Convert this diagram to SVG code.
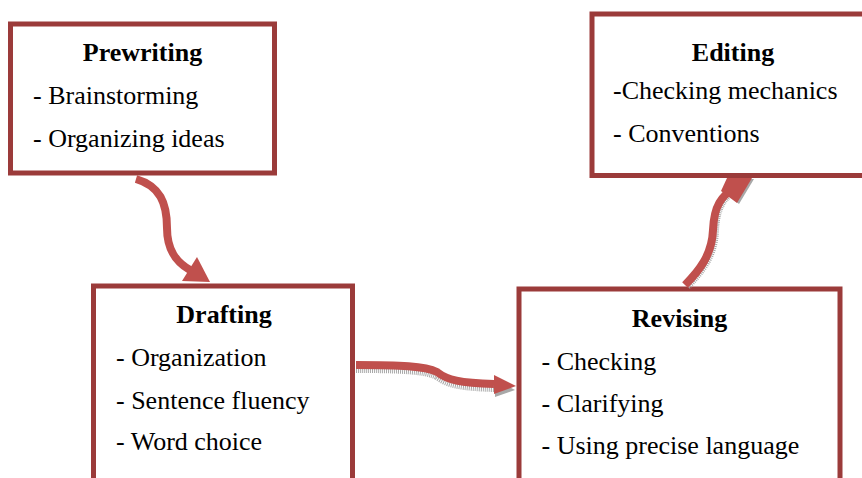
<svg xmlns="http://www.w3.org/2000/svg" width="862" height="478" viewBox="0 0 862 478">
<style>
.box{fill:#fff;stroke:#9B3B3A;stroke-width:5}
.t{font-family:"Liberation Serif","Times New Roman",serif;font-size:26px;fill:#000}
.h{font-weight:bold;text-anchor:middle}
.shaft{fill:none;stroke:#C0504D;stroke-width:8;stroke-linecap:butt}
.shadow{fill:none;stroke:#a8a8a8;stroke-width:8;stroke-dasharray:1 1}
.head{fill:#C0504D}
.hshadow{fill:#a8a8a8}
</style>
<rect width="862" height="478" fill="#fff"/>
<g id="prewriting">
<rect class="box" x="10.5" y="24" width="264" height="149"/>
<text class="t h" x="142.5" y="61">Prewriting</text>
<text class="t" x="33" y="104">- Brainstorming</text>
<text class="t" x="33" y="146.5">- Organizing ideas</text>
</g>
<g id="editing">
<rect class="box" x="592" y="14" width="290" height="161.5"/>
<text class="t h" x="733" y="61">Editing</text>
<text class="t" x="613" y="99">-Checking mechanics</text>
<text class="t" x="613" y="141.5">- Conventions</text>
</g>
<g id="drafting">
<rect class="box" x="93.5" y="286" width="259" height="210"/>
<text class="t h" x="224" y="323">Drafting</text>
<text class="t" x="116" y="365.5">- Organization</text>
<text class="t" x="116" y="409">- Sentence fluency</text>
<text class="t" x="116" y="450">- Word choice</text>
</g>
<g id="revising">
<rect class="box" x="519" y="289" width="321" height="210"/>
<text class="t h" x="679.5" y="326.5">Revising</text>
<text class="t" x="541.5" y="370">- Checking</text>
<text class="t" x="541.5" y="411.5">- Clarifying</text>
<text class="t" x="541.5" y="454">- Using precise language</text>
</g>
<g id="connectors">
<path class="shaft" d="M136,179 C160,186 167,203 167,228 C167,250 176,262 190,270"/>
<polygon class="head" points="182,281 210,282 197,257"/>
<path class="shadow" d="M356,369 C400,369 425,370 437,376 C447,384 460,387 494,388"/>
<polygon class="hshadow" points="495,379 515,390 495,397"/>
<path class="shaft" d="M356,365 C400,365 425,366 437,372 C447,380 460,383 494,384"/>
<polygon class="head" points="494,375 516,386 494,394"/>
<path class="shadow" d="M687,286 C701,272 714,256 715,231 C716,206 724,197 736,189"/>
<polygon class="hshadow" points="729,179 754,179 739,204 723,192"/>
<path class="shaft" d="M685,285 C699,271 712,255 713,230 C714,205 722,196 734,188"/>
<polygon class="head" points="727,178 752,178 737,203 721,191"/>
</g>
</svg>
